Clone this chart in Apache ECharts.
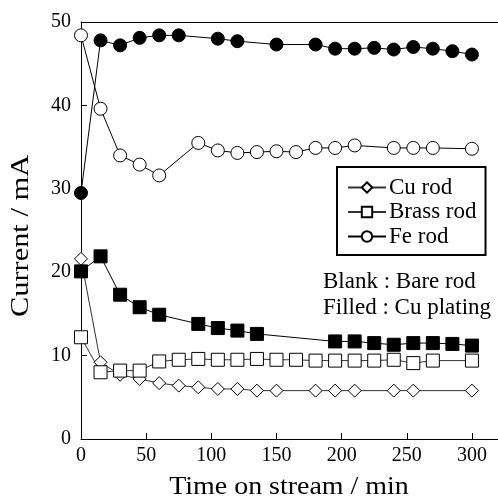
<!DOCTYPE html>
<html><head><meta charset="utf-8">
<script src="https://cdn.jsdelivr.net/npm/echarts@6/dist/echarts.min.js"></script>
<style>html,body{margin:0;padding:0;background:#fff}#c{width:498px;height:500px}</style>
</head><body><div id="c"></div>
<script>
var cuTimes = [0,15,30,45,60,75,90,105,120,135,150,180,195,210,240,255,300];
var cuBare = [21.6,9.2,7.7,7.2,6.7,6.4,6.2,6.0,6.0,5.8,5.8,5.8,5.8,5.8,5.8,5.8,5.8];
var brassBareTimes = [0,15,30,45,60,75,90,105,120,135,150,165,180,195,210,225,240,255,270,300];
var brassBare = [12.2,8.0,8.2,8.2,9.3,9.5,9.6,9.5,9.5,9.6,9.5,9.5,9.4,9.4,9.4,9.4,9.5,9.1,9.4,9.4];
var brassPlatedTimes = [0,15,30,45,60,90,105,120,135,195,210,225,240,255,270,285,300];
var brassPlated = [20.1,21.9,17.3,15.8,14.9,13.8,13.3,13.0,12.6,11.7,11.7,11.5,11.3,11.5,11.5,11.4,11.2];
var feBareTimes = [0,15,30,45,60,90,105,120,135,150,165,180,195,210,240,255,270,300];
var feBare = [48.4,39.6,34.0,32.9,31.6,35.5,34.6,34.3,34.4,34.5,34.4,34.9,34.9,35.2,34.9,34.9,34.9,34.8];
var fePlatedTimes = [0,15,30,45,60,75,105,120,150,180,195,210,225,240,255,270,285,300];
var fePlated = [29.5,47.8,47.2,48.1,48.4,48.4,48.0,47.7,47.3,47.3,46.8,46.8,46.9,46.7,47.0,46.8,46.5,46.1];
var xTicks = [0,50,100,150,200,250,300];
var yTicks = [0,10,20,30,40,50];
var xTitle = 'Time on stream / min';
var yTitle = 'Current / mA';
var legendNames = ['Cu rod','Brass rod','Fe rod'];
var noteLines = ['Blank : Bare rod','Filled : Cu plating'];

function pairs(t, v){ return t.map(function(x,i){ return [x, v[i]]; }); }
var FONT = 'Liberation Serif';

function mk(name, t, v, symbol, size, filled, lineColor){
  return {
    name: name, type: 'line', data: pairs(t, v),
    symbol: symbol, symbolSize: size, showSymbol: true,
    lineStyle: {color: lineColor, width: 1},
    itemStyle: {color: filled ? '#000' : '#fff', borderColor: '#000', borderWidth: 1},
    emphasis: {disabled: true}, animation: false, z: filled ? 3 : 2
  };
}

var chart = echarts.init(document.getElementById('c'));
chart.setOption({
  backgroundColor: '#fff',
  animation: false,
  textStyle: {fontFamily: FONT},
  grid: {left: 81, right: 0, top: 22, bottom: 61, containLabel: false, outerBoundsMode: 'none'},
  xAxis: [{
    type: 'value', min: 0, max: 320, interval: 50,
    axisLine: {show: true, lineStyle: {color: '#000', width: 1}},
    axisTick: {show: true, inside: true, length: 6, lineStyle: {color: '#000'}},
    axisLabel: {fontFamily: FONT, fontSize: 20, color: '#000', margin: 7,
      formatter: function(v){ return xTicks.indexOf(v) >= 0 ? String(v) : ''; }},
    splitLine: {show: false}
  },{
    type: 'value', position: 'top', min: 0, max: 320,
    axisLine: {show: true, onZero: false, lineStyle: {color: '#000', width: 1}},
    axisTick: {show: false}, axisLabel: {show: false}, splitLine: {show: false}
  }],
  yAxis: {
    type: 'value', min: 0, max: 50, interval: 10,
    axisLine: {show: true, lineStyle: {color: '#000', width: 1}},
    axisTick: {show: true, inside: true, length: 6, lineStyle: {color: '#000'}},
    axisLabel: {fontFamily: FONT, fontSize: 20, color: '#000', margin: 10,
      formatter: function(v){ return yTicks.indexOf(v) >= 0 ? String(v) : ''; }},
    splitLine: {show: false}
  },
  legend: {
    data: legendNames, orient: 'vertical', left: 337, top: 167,
    padding: [9, 9, 7, 10], itemGap: 1.5, itemWidth: 38, itemHeight: 13,
    borderColor: '#000', borderWidth: 2, backgroundColor: '#fff',
    textStyle: {fontFamily: FONT, fontSize: 23, color: '#000', padding: [0,0,0,-2]},
    selectedMode: false
  },
  graphic: [
    {type: 'text', x: 289, y: 487, scaleX: 1.075, style: {text: xTitle, font: '26px "Liberation Serif"', fill: '#000', align: 'center', verticalAlign: 'middle'}},
    {type: 'text', x: 21.5, y: 236, rotation: Math.PI/2, scaleX: 1.17, style: {text: yTitle, font: '26px "Liberation Serif"', fill: '#000', align: 'center', verticalAlign: 'middle'}},
    {type: 'text', left: 323, top: 270, style: {text: noteLines[0], font: '23px "Liberation Serif"', fill: '#000'}},
    {type: 'text', left: 323, top: 296, style: {text: noteLines[1], font: '23px "Liberation Serif"', fill: '#000'}}
  ],
  series: [
    mk(legendNames[0], cuTimes, cuBare, 'diamond', 13, false, '#333'),
    mk(legendNames[1], brassBareTimes, brassBare, 'rect', 13, false, '#333'),
    mk(legendNames[2], feBareTimes, feBare, 'circle', 13, false, '#000'),
    mk('Brass rod (Cu plating)', brassPlatedTimes, brassPlated, 'rect', 13, true, '#000'),
    mk('Fe rod (Cu plating)', fePlatedTimes, fePlated, 'circle', 13, true, '#000')
  ]
});
</script></body></html>
